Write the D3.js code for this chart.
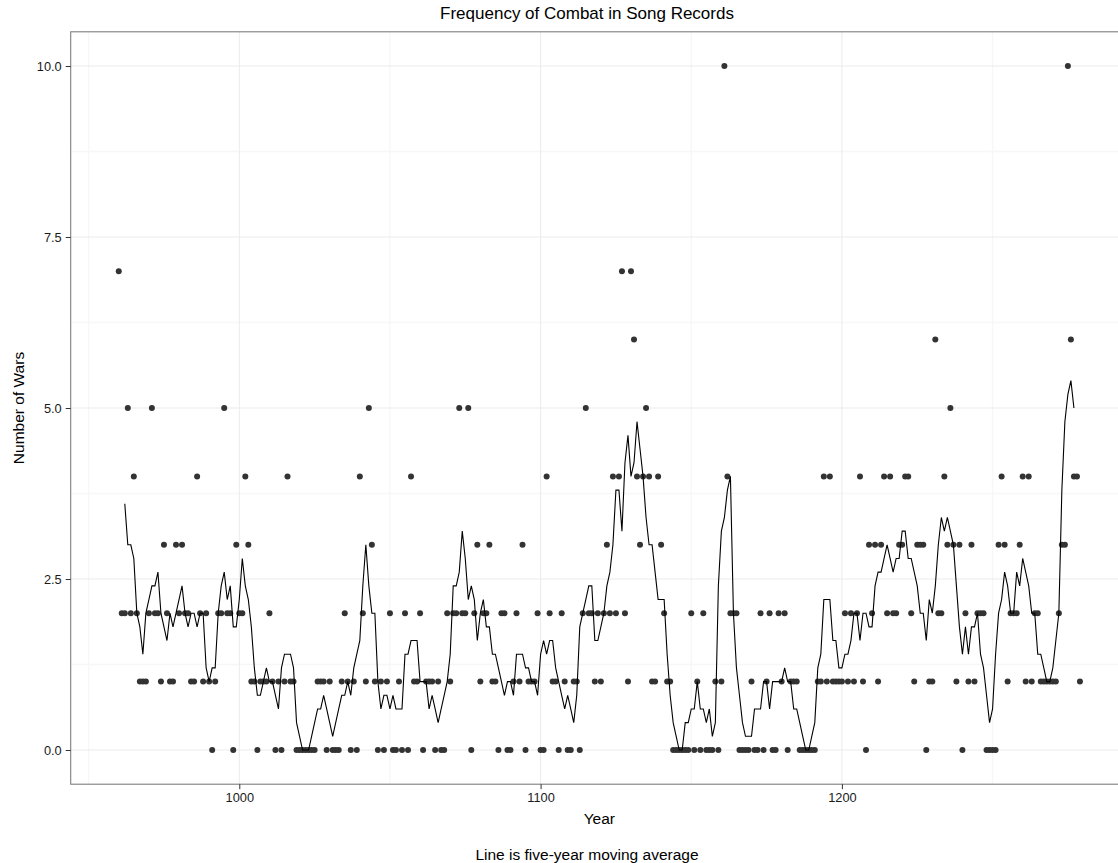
<!DOCTYPE html>
<html>
<head>
<meta charset="utf-8">
<script src="https://cdnjs.cloudflare.com/ajax/libs/d3/7.8.5/d3.min.js"></script>
<style>
  body { margin: 0; background: #fff; }
  svg text { font-family: "Liberation Sans", Arial, Helvetica, sans-serif; }
</style>
</head>
<body>
<div id="chart"></div>
<script>
// first year of the record, one value per year after that
var startYear = 960;

// number of wars per year, 960 - 1279 (ten years per row)
var wars = [
  7,2,2,5,2,4,2,1,1,1,
  2,5,2,2,1,3,2,1,1,3,
  2,3,2,2,1,1,4,2,1,2,
  1,0,1,2,2,5,2,2,0,3,
  2,2,4,3,1,1,0,1,1,1,
  2,1,0,1,0,1,4,1,1,0,
  0,0,0,0,0,0,1,1,1,0,
  1,0,0,0,1,2,1,0,1,0,
  4,2,1,5,3,1,0,1,0,1,
  2,0,0,1,0,2,0,4,1,1,
  2,0,1,1,1,0,1,0,0,2,
  1,2,2,5,2,2,5,0,2,3,
  1,2,2,3,1,1,0,2,2,0,
  0,1,2,1,3,0,1,1,1,2,
  0,0,4,2,1,1,0,2,1,0,
  0,1,1,0,2,5,2,2,1,2,
  1,2,3,2,4,2,4,7,2,1,
  7,6,4,3,4,5,4,1,1,4,
  3,2,1,1,0,0,0,0,0,0,
  2,0,1,0,2,0,0,0,1,0,
  1,10,4,2,2,2,0,0,0,0,
  1,0,0,2,0,1,2,0,0,2,
  1,2,0,1,1,1,0,0,0,0,
  0,0,1,1,4,1,4,1,1,1,
  1,2,1,2,1,2,4,1,0,3,
  2,3,1,3,4,2,4,2,2,3,
  3,4,4,2,1,3,3,3,0,1,
  1,6,2,2,4,3,5,3,1,3,
  0,2,1,3,1,2,2,2,0,0,
  0,0,3,4,3,1,2,2,2,3,
  4,1,4,1,2,2,1,1,1,1,
  1,1,2,3,3,10,6,4,4,1
];

var xTicks = [1000, 1100, 1200];
var xMinor = [950, 1050, 1150, 1250];
var yTicks = [0, 2.5, 5, 7.5, 10];
var yMinor = [1.25, 3.75, 6.25, 8.75];

var titleText = "Frequency of Combat in Song Records";
var xTitle = "Year";
var yTitle = "Number of Wars";
var caption = "Line is five-year moving average";

var width = 1118, height = 863;

var points = wars.map(function (v, i) { return { year: startYear + i, n: v }; });

// centred five-year moving average
var avg = [];
for (var i = 2; i < wars.length - 2; i++) {
  avg.push({ year: startYear + i, n: d3.mean(wars.slice(i - 2, i + 3)) });
}

// ggplot style 5% expansion on both axes
var xr = d3.extent(points, function (d) { return d.year; });
var xPad = (xr[1] - xr[0]) * 0.05;
var x = d3.scaleLinear()
  .domain([xr[0] - xPad, xr[1] + xPad])
  .range([70.7, 1128]);

var y = d3.scaleLinear()
  .domain([-0.5, 10.5])
  .range([784.2, 31.8]);

var svg = d3.select("#chart").append("svg")
  .attr("width", width)
  .attr("height", height);

var pLeft = x.range()[0], pRight = x.range()[1];
var pTop = y.range()[1], pBottom = y.range()[0];

// grid lines
var grid = svg.append("g");
grid.selectAll(".xminor").data(xMinor).enter().append("line")
  .attr("x1", x).attr("x2", x).attr("y1", pTop).attr("y2", pBottom)
  .style("stroke", "#f7f7f7").style("stroke-width", 1.4);
grid.selectAll(".yminor").data(yMinor).enter().append("line")
  .attr("x1", pLeft).attr("x2", pRight).attr("y1", y).attr("y2", y)
  .style("stroke", "#f7f7f7").style("stroke-width", 1.4);
grid.selectAll(".xmajor").data(xTicks).enter().append("line")
  .attr("x1", x).attr("x2", x).attr("y1", pTop).attr("y2", pBottom)
  .style("stroke", "#ebebeb").style("stroke-width", 1);
grid.selectAll(".ymajor").data(yTicks).enter().append("line")
  .attr("x1", pLeft).attr("x2", pRight).attr("y1", y).attr("y2", y)
  .style("stroke", "#ebebeb").style("stroke-width", 1);

// points
svg.append("g").selectAll("circle")
  .data(points)
  .enter().append("circle")
  .attr("cx", function (d) { return x(d.year); })
  .attr("cy", function (d) { return y(d.n); })
  .attr("r", 3)
  .style("fill", "#333333");

// moving average line
var line = d3.line()
  .x(function (d) { return x(d.year); })
  .y(function (d) { return y(d.n); });

svg.append("path")
  .datum(avg)
  .attr("d", line)
  .style("fill", "none")
  .style("stroke", "#000")
  .style("stroke-width", 1.1);

// panel border
svg.append("rect")
  .attr("x", pLeft).attr("y", pTop)
  .attr("width", pRight - pLeft).attr("height", pBottom - pTop)
  .style("fill", "none").style("stroke", "#7f7f7f").style("stroke-width", 1.1);

// axes
var xAxis = svg.append("g")
  .attr("transform", "translate(0," + pBottom + ")")
  .call(d3.axisBottom(x).tickValues(xTicks).tickFormat(d3.format("d")).tickSize(5).tickPadding(4));

var yAxis = svg.append("g")
  .attr("transform", "translate(" + pLeft + ",0)")
  .call(d3.axisLeft(y).tickValues(yTicks).tickFormat(d3.format(".1f")).tickSize(5).tickPadding(4));

[xAxis, yAxis].forEach(function (a) {
  a.select(".domain").remove();
  a.selectAll(".tick line").style("stroke", "#333").style("stroke-width", 1);
  a.selectAll(".tick text")
    .style("font-size", "12.8px")
    .style("fill", "#1a1a1a")
    .style("font-family", "'Liberation Sans', Arial, sans-serif");
});

// titles
svg.append("text")
  .attr("x", 587).attr("y", 19)
  .attr("text-anchor", "middle")
  .style("font-size", "17px")
  .text(titleText);

svg.append("text")
  .attr("x", (pLeft + pRight) / 2).attr("y", 824)
  .attr("text-anchor", "middle")
  .style("font-size", "15.5px")
  .text(xTitle);

svg.append("text")
  .attr("x", 587).attr("y", 860)
  .attr("text-anchor", "middle")
  .style("font-size", "15.5px")
  .text(caption);

svg.append("text")
  .attr("transform", "translate(24," + (pTop + pBottom) / 2 + ") rotate(-90)")
  .attr("text-anchor", "middle")
  .style("font-size", "15.5px")
  .text(yTitle);
</script>
</body>
</html>
